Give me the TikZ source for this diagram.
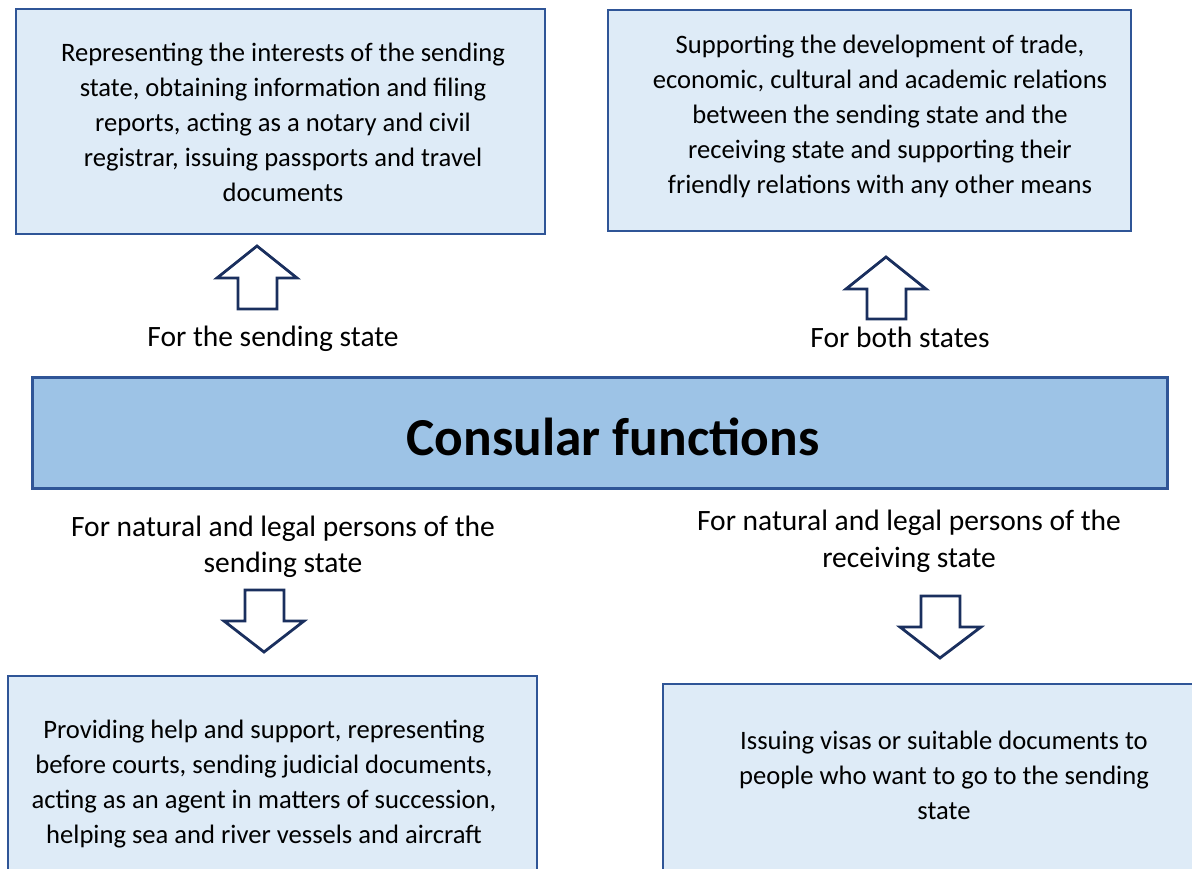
\documentclass[tikz,border=0pt]{standalone}
\usepackage{fontspec}
\setmainfont{Carlito}
\definecolor{boxfill}{HTML}{DEEBF7}
\definecolor{boxline}{HTML}{2F5597}
\definecolor{mainfill}{HTML}{9DC3E6}
\definecolor{arrowline}{HTML}{1A2F5E}
\begin{document}
\begin{tikzpicture}[x=1pt,y=-1pt,
  infobox/.style={draw=boxline,fill=boxfill,line width=2pt},
  bodytext/.style={align=center,font=\fontsize{26.6}{35}\selectfont,inner sep=0pt},
  labeltext/.style={align=center,font=\fontsize{29.5}{36.5}\selectfont,inner sep=0pt},
  blockarrow/.style={draw=arrowline,fill=white,line width=2.8pt,line join=miter}]
\useasboundingbox (0,0) rectangle (1192,869);
\begin{scope}
\clip (0,0) rectangle (1192,869);
% boxes
\draw[infobox] (16,9) rectangle (545,234);
\draw[infobox] (608,10) rectangle (1131,231);
\draw[infobox] (8,676) rectangle (537,880);
\draw[infobox] (663,684) rectangle (1200,880);
\draw[draw=boxline,fill=mainfill,line width=3pt] (32,377) rectangle (1167,488);
\end{scope}
\node[bodytext] (tl) at (283,122) {Representing the interests of the sending\\state, obtaining information and filing\\reports, acting as a notary and civil\\registrar, issuing passports and travel\\documents};
\node[bodytext] (tr) at (880,116) {Supporting the development of trade,\\economic, cultural and academic relations\\between the sending state and the\\receiving state and supporting their\\friendly relations with any other means};
\node[bodytext] (bl) at (264,784.5) {Providing help and support, representing\\before courts, sending judicial documents,\\acting as an agent in matters of succession,\\helping sea and river vessels and aircraft};
\node[bodytext] (br) at (944,775) {Issuing visas or suitable documents to\\people who want to go to the sending\\state};
\node[inner sep=0pt,font=\fontsize{53.4}{56}\selectfont\bfseries] (title) at (613,437) {Consular functions};
\node[labeltext] (l1) at (273,339) {For the sending state};
\node[labeltext] (l2) at (900,337) {For both states};
\node[labeltext] (l3) at (283,547) {For natural and legal persons of the\\sending state};
\node[labeltext] (l4) at (909,541.5) {For natural and legal persons of the\\receiving state};
% block arrows
\draw[blockarrow] (257,246) -- (297,278) -- (277,278) -- (277,309) -- (238,309) -- (238,278) -- (217,278) -- cycle;
\draw[blockarrow] (886,257) -- (926,289) -- (906,289) -- (906,319) -- (867,319) -- (867,289) -- (846,289) -- cycle;
\draw[blockarrow] (264,652) -- (304,621) -- (284,621) -- (284,590) -- (245,590) -- (245,621) -- (224,621) -- cycle;
\draw[blockarrow] (940,658) -- (981,627) -- (960,627) -- (960,596) -- (921,596) -- (921,627) -- (900,627) -- cycle;
\end{tikzpicture}
\end{document}
